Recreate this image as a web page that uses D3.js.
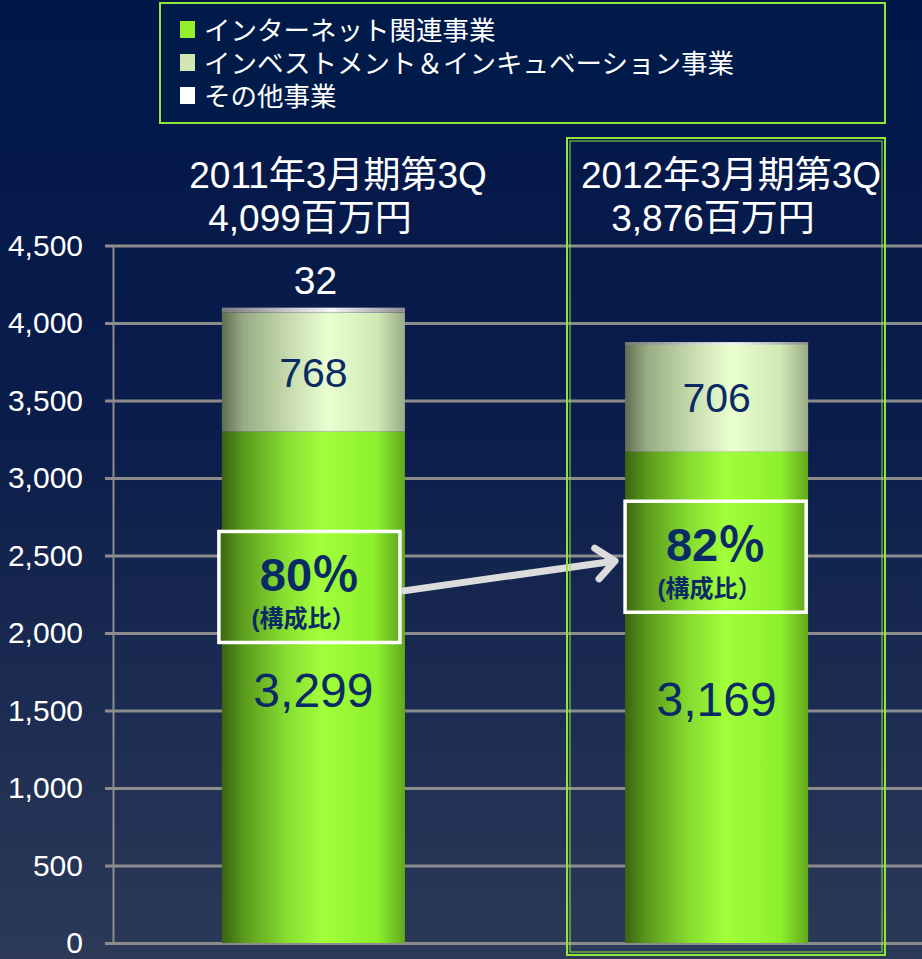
<!DOCTYPE html>
<html>
<head>
<meta charset="utf-8">
<script src="https://cdn.jsdelivr.net/npm/d3@7"></script>
<style>
  body { margin: 0; background: #001848; }
  svg { display: block; }
  text { font-family: "Liberation Sans", "Noto Sans CJK JP", sans-serif; }
</style>
</head>
<body>
<div id="chart"></div>
<script>
// data
const periods = ["2011年3月期第3Q", "2012年3月期第3Q"];
const totalLabels = ["4,099百万円", "3,876百万円"];
const internet = [3299, 3169];
const investment = [768, 706];
const others = [32, 1];
const seriesNames = ["インターネット関連事業", "インベストメント＆インキュベーション事業", "その他事業"];
const yTicks = [0, 500, 1000, 1500, 2000, 2500, 3000, 3500, 4000, 4500];

const W = 922, H = 959;
const svg = d3.select("#chart").append("svg").attr("width", W).attr("height", H);
const defs = svg.append("defs");

// background
const bg = defs.append("linearGradient").attr("id", "bg").attr("x1", 0).attr("y1", 0).attr("x2", 0).attr("y2", 1);
bg.append("stop").attr("offset", "0%").attr("stop-color", "#00174a");
bg.append("stop").attr("offset", "45%").attr("stop-color", "#0b1d4b");
bg.append("stop").attr("offset", "100%").attr("stop-color", "#2c3a58");
svg.append("rect").attr("width", W).attr("height", H).attr("fill", "url(#bg)");

function hGrad(id, stops) {
    const g = defs.append("linearGradient").attr("id", id).attr("x1", 0).attr("y1", 0).attr("x2", 1).attr("y2", 0);
    stops.forEach(s => g.append("stop").attr("offset", s[0]).attr("stop-color", s[1]));
}
hGrad("gGreen", [["0%", "#3a6410"], ["12%", "#5a9a1c"], ["35%", "#86dc30"], ["55%", "#a2ff3a"], ["85%", "#8cf02c"], ["100%", "#62a81c"]]);
hGrad("gLight", [["0%", "#5e6e50"], ["12%", "#98ac84"], ["35%", "#c4d8ac"], ["58%", "#eaffd0"], ["85%", "#d0e8b4"], ["100%", "#9aaa88"]]);
hGrad("gGrey", [["0%", "#7a7a7a"], ["40%", "#d0d0d0"], ["60%", "#f4f4f4"], ["100%", "#909090"]]);

// scales
const x = d3.scaleBand().domain(periods).range([109, 921]).paddingInner(0.546).paddingOuter(0.28);
const y = d3.scaleLinear().domain([0, 4500]).range([943, 245.5]);

// grid
const yAxis = d3.axisLeft(y).tickValues(yTicks).tickFormat(d3.format(",")).tickSize(8).tickPadding(22);
const ax = svg.append("g").attr("transform", "translate(113,0)").call(yAxis);
ax.select(".domain").attr("stroke", "#8c8c8c").attr("stroke-width", 2);
ax.selectAll(".tick line").attr("stroke", "#8c8c8c").attr("stroke-width", 3);
ax.selectAll(".tick text").attr("fill", "#fff").attr("font-size", 30).style("font-family", "Liberation Sans");
ax.selectAll(".tick").append("line").attr("x1", 0).attr("x2", W - 113).attr("stroke", "#8c8c8c").attr("stroke-width", 3);

// stacked bars
const rows = periods.map((p, i) => ({ p, i, segs: [
    { v0: 0, v1: internet[i], fill: "url(#gGreen)" },
    { v0: internet[i], v1: internet[i] + investment[i], fill: "url(#gLight)" },
    { v0: internet[i] + investment[i], v1: internet[i] + investment[i] + others[i], fill: "url(#gGrey)" }
] }));

const bars = svg.selectAll(".bar").data(rows).enter().append("g").attr("class", "bar");
bars.selectAll("rect").data(d => d.segs.map(s => Object.assign({ p: d.p }, s))).enter().append("rect")
    .attr("x", d => x(d.p))
    .attr("width", x.bandwidth())
    .attr("y", d => y(d.v1))
    .attr("height", d => Math.max(2.5, y(d.v0) - y(d.v1)))
    .attr("fill", d => d.fill);

// value labels
bars.append("text").attr("x", d => x(d.p) + x.bandwidth() / 2)
    .attr("y", d => y((d.segs[1].v0 + d.segs[1].v1) / 2) + 15)
    .attr("text-anchor", "middle").attr("font-size", 41).attr("fill", "#0a2a66")
    .text(d => investment[d.i]);
bars.append("text").attr("x", d => x(d.p) + x.bandwidth() / 2)
    .attr("y", d => [707, 716][d.i])
    .attr("text-anchor", "middle").attr("font-size", 48).attr("fill", "#0a2a66")
    .text(d => d3.format(",")(internet[d.i]));
svg.append("text").attr("x", x(periods[0]) + x.bandwidth() / 2 + 2).attr("y", y(internet[0] + investment[0] + others[0]) - 14)
    .attr("text-anchor", "middle").attr("font-size", 39).attr("fill", "#fff").text(others[0]);

// ratio boxes
const ratioY = [2655, 2850];
const boxes = svg.selectAll(".ratio").data(rows).enter().append("g").attr("class", "ratio")
    .attr("transform", d => `translate(${x(d.p) - 3 + d.i * 3},${y(ratioY[d.i])})`);
boxes.append("rect").attr("width", x.bandwidth() - 2).attr("height", 111)
    .attr("fill", "url(#gGreen)").attr("stroke", "#fff").attr("stroke-width", 3.5);
boxes.append("text").attr("x", (x.bandwidth() - 2) / 2).attr("y", 60)
    .attr("text-anchor", "middle").attr("font-size", 47).attr("font-weight", "bold").attr("fill", "#0a2a66")
    .text(d => Math.round(internet[d.i] / (internet[d.i] + investment[d.i] + others[d.i]) * 100) + "％");
boxes.append("text").attr("x", (x.bandwidth() - 2) / 2 - 6).attr("y", 96)
    .attr("text-anchor", "middle").attr("font-size", 24).attr("font-weight", "bold").attr("fill", "#0a2a66")
    .text("(構成比）");

// arrow
const ax1 = x(periods[0]) + x.bandwidth() - 3, ay1 = y(2270);
const ax2 = x(periods[1]) - 10, ay2 = y(2465);
svg.append("line").attr("x1", ax1).attr("y1", ay1).attr("x2", ax2).attr("y2", ay2)
    .attr("stroke", "#dcdcdc").attr("stroke-width", 7);
const ang = Math.atan2(ay2 - ay1, ax2 - ax1);
const hl = 24;
svg.append("path")
    .attr("d", `M${ax2 - hl * Math.cos(ang - 0.7)},${ay2 - hl * Math.sin(ang - 0.7)} L${ax2},${ay2} L${ax2 - hl * Math.cos(ang + 0.7)},${ay2 - hl * Math.sin(ang + 0.7)}`)
    .attr("fill", "none").attr("stroke", "#dcdcdc").attr("stroke-width", 7).attr("stroke-linecap", "round").attr("stroke-linejoin", "round");

// period titles
const titleX = [[338, 310], [731, 713]];
periods.forEach((p, i) => {
    svg.append("text").attr("x", titleX[i][0]).attr("y", 188).attr("text-anchor", "middle")
        .attr("font-size", 37).attr("fill", "#fff").text(p);
    svg.append("text").attr("x", titleX[i][1]).attr("y", 231).attr("text-anchor", "middle")
        .attr("font-size", 37).attr("fill", "#fff").text(totalLabels[i]);
});

// highlight box
svg.append("rect").attr("x", 567).attr("y", 138).attr("width", 318).attr("height", 817)
    .attr("fill", "none").attr("stroke", "#8ee63a").attr("stroke-width", 2);
svg.append("rect").attr("x", 570).attr("y", 141).attr("width", 312).attr("height", 811)
    .attr("fill", "none").attr("stroke", "#8ee63a").attr("stroke-width", 1);

// legend
const lg = svg.append("g");
lg.append("rect").attr("x", 160).attr("y", 3).attr("width", 725).attr("height", 120)
    .attr("fill", "#001a4a").attr("stroke", "#8ee63a").attr("stroke-width", 2);
const legendColors = ["#94f02c", "#d2e8b0", "#ffffff"];
seriesNames.forEach((n, i) => {
    lg.append("rect").attr("x", 180).attr("y", 21 + i * 33).attr("width", 15).attr("height", 17).attr("fill", legendColors[i]);
    lg.append("text").attr("x", 204).attr("y", 40 + i * 33).attr("font-size", 26.5).attr("fill", "#fff").text(n);
});
</script>
</body>
</html>
